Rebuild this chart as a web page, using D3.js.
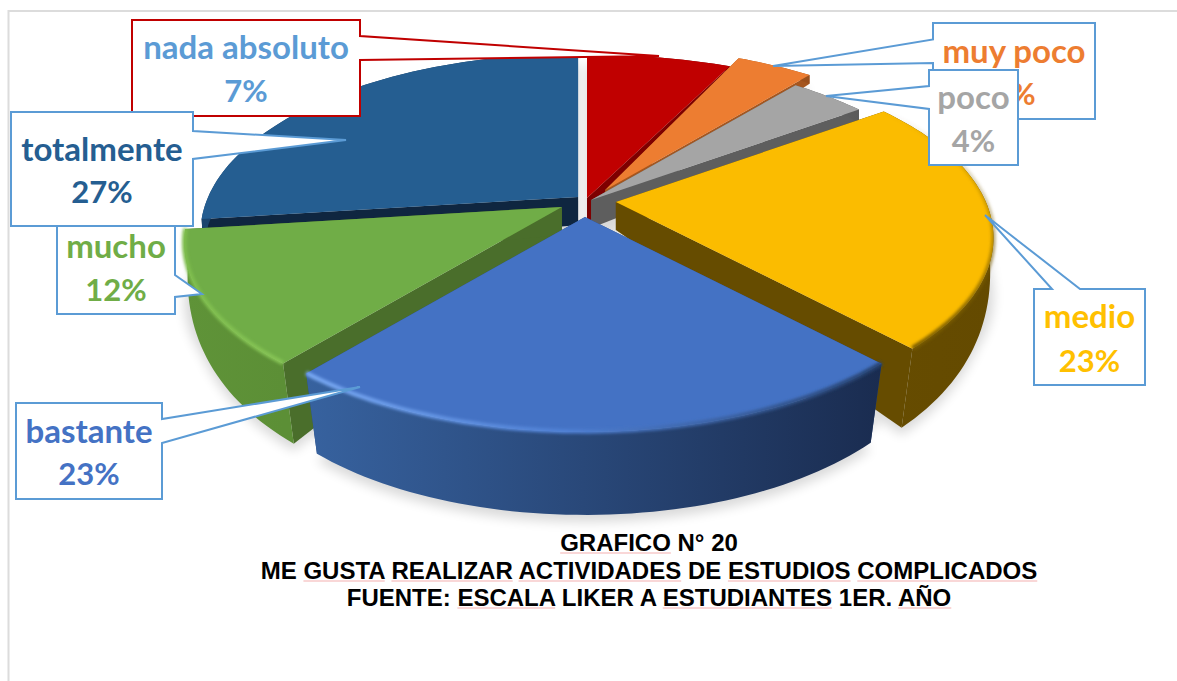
<!DOCTYPE html>
<html><head><meta charset="utf-8">
<script src="https://cdn.jsdelivr.net/npm/d3@7"></script>
<style>html,body{margin:0;padding:0;background:#fff;overflow:hidden}svg{display:block}
.t{font-family:Lato,"Open Sans",sans-serif;font-weight:700;font-size:33px;text-anchor:middle}
.p{font-size:31px}
.c{font-family:"Liberation Sans",Arial,sans-serif;font-weight:700;font-size:24px;text-anchor:middle;fill:#000}
</style></head><body>
<script>
// ---------- data ----------
const categories = ["nada absoluto","muy poco","poco","medio","bastante","mucho","totalmente"];
const values     = [7,4,4,23,23,12,27];
const topColors  = ["#c00000","#ed7d31","#a5a5a5","#fbbc00","#4472c4","#70ad47","#255e91"];
const cutColors  = ["#7e0000","#a5561f","#5e5e5e","#664c00","#2b4a80","#4a6e2b","#0f2640"];
const sideStops  = [["#8a0000","#700000"],["#a5561f","#9a4f1c"],["#666","#5a5a5a"],["#664c00","#644a00"],["#37629f","#1a2c50"],["#5f9338","#5c8f36"],["#1c466e","#12304f"]];
const labelColors= ["#5b9bd5","#ed7d31","#a5a5a5","#ffc000","#4472c4","#70ad47","#255e91"];
const captionLines = [
  ["*GRAFICO","N°","20"],
  ["ME","*GUSTA","*REALIZAR","*ACTIVIDADES","DE","*ESTUDIOS","*COMPLICADOS"],
  ["FUENTE:","*ESCALA","LIKER","A","*ESTUDIANTES","1ER.","*AÑO"]
];

// ---------- layout ----------
const W=1177,H=681,cx=580,cy=198;
const rX=d3.scaleLinear().domain([0,1]).range([0,370]);
const rY=d3.scaleLinear().domain([0,1]).range([0,172]);
const persp=0.2;
// explosion of every slice as a screen shift, in fractions of the radii
const explode=[[.019,0],[.068,-.047],[.03,.012],[.097,.023],[.0135,.11],[-.049,.052],[-.005,-.006]];
const stretchX=[1.07,1,1,1,1,1,1];
const drawOrder=[6,0,1,2,3,5,4];
// rim highlight: [direction, stops as [offset,colour,opacity]]
const rims={
 3:["v",[[0,"#7a5c00",0],[.4,"#7a5c00",.35],[1,"#7a5c00",1]]],
 4:["h",[[0,"#78a8f2",1],[.45,"#4f80d4",1],[1,"#26426f",1]]],
 5:["h",[[0,"#7fbe4e",1],[1,"#86c455",1]]]
};
const callouts=[
 {i:0,box:[132,20,360,116],ptr:[[360,36],[659,56],[360,60]],stroke:"#c00000",base:[59,102]},
 {i:1,box:[933,23,1095,119],ptr:[[933,39.5],[773,66],[933,63]],stroke:"#5b9bd5",base:[63,105]},
 {i:2,box:[929,70,1018,165],ptr:[[929,86],[826,96],[929,109]],stroke:"#5b9bd5",base:[109,152]},
 {i:3,box:[1034,289,1145,385],ptr:[[1052,289],[985,215],[1080,289]],stroke:"#5b9bd5",base:[328,372],top:true},
 {i:4,box:[16,403,162,499],ptr:[[162,419],[360,387],[162,443]],stroke:"#5b9bd5",base:[443,485]},
 {i:5,box:[57,219,175,314],ptr:[[175,275],[202,294],[175,297]],stroke:"#5b9bd5",base:[258,301]},
 {i:6,box:[11,112,193,226],ptr:[[193,131],[346,140],[193,159]],stroke:"#5b9bd5",base:[161,203]}
];

const svg=d3.select("body").append("svg").attr("width",W).attr("height",H);
const defs=svg.append("defs");
defs.append("filter").attr("id","sh").attr("x","-20%").attr("y","-20%").attr("width","140%").attr("height","140%")
  .append("feGaussianBlur").attr("stdDeviation",6);
defs.append("filter").attr("id","rim").attr("x","-20%").attr("y","-20%").attr("width","140%").attr("height","140%")
  .append("feGaussianBlur").attr("stdDeviation",1.6);

// page frame
svg.append("path").attr("d",`M8.5,${H}V11H${W}`).attr("fill","none").attr("stroke","#dcdcdc").attr("stroke-width",2);

const arcs=d3.pie().sort(null).value(d=>d)(values);
const line=d3.line();
function tDepth(Y){return Y<0?28+25*Y:28+110*Y-55*Y*Y;}
function ptTop(k,a,r){
  const X=Math.sin(a)*r*stretchX[k],Y=-Math.cos(a)*r,s=1/(1-persp*Y);
  return [cx+rX(explode[k][0])+rX(X)*s, cy+rY(explode[k][1])+rY(Y)*s];
}
function ptBot(k,a,r){
  const X=Math.sin(a)*r*stretchX[k],Y=-Math.cos(a)*r,s=1/(1-persp*Y);
  const shrink=1-.05*Math.max(Y,0);
  return [cx+rX(explode[k][0])+shrink*rX(X)*s, cy+rY(explode[k][1])+rY(Y)*s+tDepth(Y)];
}
function angles(d){const n=Math.max(8,Math.ceil((d.endAngle-d.startAngle)*40));
  return d3.range(n+1).map(i=>d.startAngle+(d.endAngle-d.startAngle)*i/n);}

// soft shadow below the pie
const shadow=svg.append("g").attr("filter","url(#sh)").attr("opacity",.15);
arcs.forEach((d,k)=>{
  const as=angles(d);
  shadow.append("path").attr("d",line([ptBot(k,d.startAngle,0),...as.map(a=>{const p=ptBot(k,a,1);return [p[0],p[1]+7];})])+"Z");
  shadow.append("path").attr("d",line([ptTop(k,d.startAngle,0),...as.map(a=>ptTop(k,a,1))])+"Z").attr("transform","translate(0,58)");
});

// slices, back to front
const pie=svg.append("g");
drawOrder.forEach(k=>{
  const d=arcs[k],as=angles(d),g=pie.append("g");
  const tops=as.map(a=>ptTop(k,a,1)),bots=as.map(a=>ptBot(k,a,1));
  const [x0,x1]=d3.extent(tops,p=>p[0]),[y0,y1]=d3.extent(tops,p=>p[1]);
  const side=defs.append("linearGradient").attr("id","side"+k).attr("gradientUnits","userSpaceOnUse")
      .attr("x1",x0).attr("x2",x1).attr("y1",0).attr("y2",0);
  side.append("stop").attr("offset",0).attr("stop-color",sideStops[k][0]);
  side.append("stop").attr("offset",1).attr("stop-color",sideStops[k][1]);
  [d.startAngle,d.endAngle].forEach(a=>{
    g.append("path").attr("fill",cutColors[k])
     .attr("d",line([ptTop(k,a,0),ptTop(k,a,1),ptBot(k,a,1),ptBot(k,a,0)])+"Z");
  });
  g.append("path").attr("fill",`url(#side${k})`).attr("d",line([...tops,...bots.slice().reverse()])+"Z");
  g.append("path").attr("fill",topColors[k]).attr("d",line([ptTop(k,d.startAngle,0),...tops])+"Z");
  if(rims[k]){
    const [dir,stops]=rims[k];
    const lg=defs.append("linearGradient").attr("id","rim"+k).attr("gradientUnits","userSpaceOnUse")
      .attr("x1",dir==="h"?x0:0).attr("x2",dir==="h"?x1:0).attr("y1",dir==="v"?y0:0).attr("y2",dir==="v"?y1:0);
    stops.forEach(s=>lg.append("stop").attr("offset",s[0]).attr("stop-color",s[1]).attr("stop-opacity",s[2]));
    g.append("path").attr("fill","none").attr("stroke",`url(#rim${k})`).attr("stroke-width",4.5)
     .attr("filter","url(#rim)").attr("d",line(tops.map(p=>[p[0],p[1]-.5])));
  }
});

// callouts
const cg=svg.append("g");
callouts.forEach(c=>{
  const [x0,y0,x1,y1]=c.box;
  const pts=c.top?[[x0,y0],...c.ptr,[x1,y0],[x1,y1],[x0,y1]]
    : c.box[0]===c.ptr[0][0]? [[x0,y0],[x1,y0],[x1,y1],[x0,y1],...c.ptr.slice().reverse()]
    : [[x0,y0],[x1,y0],...c.ptr,[x1,y1],[x0,y1]];
  cg.append("path").attr("d",line(pts)+"Z").attr("fill","#fff").attr("stroke",c.stroke).attr("stroke-width",2);
  const tx=(x0+x1)/2;
  cg.append("text").attr("class","t").attr("x",tx).attr("y",c.base[0]).attr("fill",labelColors[c.i]).text(categories[c.i]);
  cg.append("text").attr("class","t p").attr("x",tx).attr("y",c.base[1]).attr("fill",labelColors[c.i]).text(values[c.i]+"%");
});

// caption, with the light spell-check underlines
const capY=[551,579,606],capX=649;
captionLines.forEach((words,i)=>{
  const t=svg.append("text").attr("class","c").attr("x",capX).attr("y",capY[i]);
  const marked=[];
  words.forEach((w,j)=>{
    const mark=w[0]==="*";
    const ts=t.append("tspan").text(mark?w.slice(1):w);
    if(mark)marked.push(ts.node());
    if(j<words.length-1)t.append("tspan").text(" ");
  });
  marked.forEach(n=>{
    const len=n.getNumberOfChars();
    const a=n.getStartPositionOfChar(0).x,b=n.getEndPositionOfChar(len-1).x;
    svg.append("line").attr("x1",a).attr("x2",b).attr("y1",capY[i]+2).attr("y2",capY[i]+2)
      .attr("stroke","#f3b0b0").attr("stroke-width",1.2);
  });
});
</script></body></html>
